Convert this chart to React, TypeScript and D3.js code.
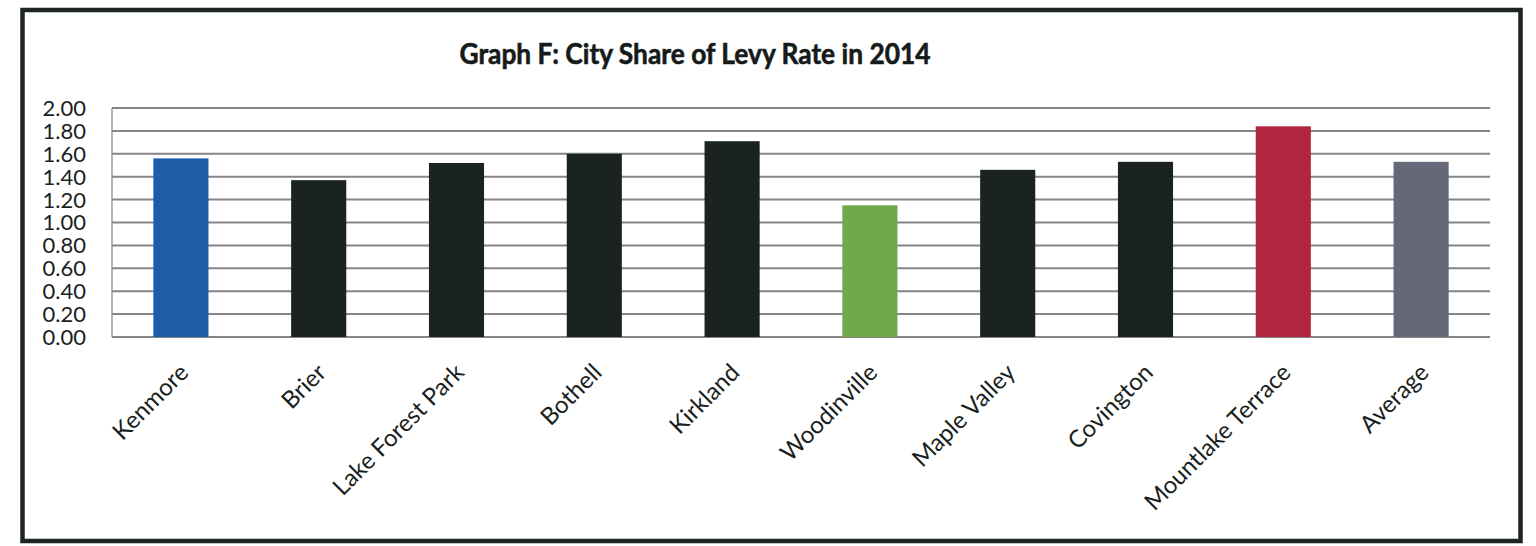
import React from "react";
import * as d3 from "d3";

const cities = [
  "Kenmore",
  "Brier",
  "Lake Forest Park",
  "Bothell",
  "Kirkland",
  "Woodinville",
  "Maple Valley",
  "Covington",
  "Mountlake Terrace",
  "Average",
];
const levyShare = [1.56, 1.37, 1.52, 1.6, 1.71, 1.15, 1.46, 1.53, 1.84, 1.53];
const barColors = [
  "#1d5ca6",
  "#1b2321",
  "#1b2321",
  "#1b2321",
  "#1b2321",
  "#71a84c",
  "#1b2321",
  "#1b2321",
  "#b2253f",
  "#646879",
];
const yTicks = [0, 0.2, 0.4, 0.6, 0.8, 1.0, 1.2, 1.4, 1.6, 1.8, 2.0];
const title = "Graph F: City Share of Levy Rate in 2014";

const width = 1536;
const height = 546;
const plotLeft = 112;
const plotRight = 1490;
const plotTop = 108;
const plotBottom = 337;
const font = "Lato, 'Open Sans', sans-serif";

export default function App() {
  const x = d3
    .scaleBand<string>()
    .domain(cities)
    .range([plotLeft, plotRight])
    .paddingInner(0.6)
    .paddingOuter(0.3);

  const y = d3.scaleLinear().domain([0, 2]).range([plotBottom, plotTop]);

  const bars = cities.map((c, i) => ({ city: c, value: levyShare[i], color: barColors[i] }));

  return (
    <svg
      width={width}
      height={height}
      viewBox={`0 0 ${width} ${height}`}
      style={{ position: "absolute", left: 0, top: 0, background: "#fff" }}
    >
      {/* frame */}
      <rect x={22.5} y={10} width={1498} height={531} fill="none" stroke="#1e2422" strokeWidth={4.5} />

      <text
        x={695}
        y={64}
        textAnchor="middle"
        fontFamily={font}
        fontWeight="bold"
        fontSize={28}
        fill="#161b1a"
        stroke="#161b1a"
        strokeWidth={0.6}
        textLength={471}
        lengthAdjust="spacingAndGlyphs"
      >
        {title}
      </text>

      {/* gridlines */}
      <g stroke="#858585" strokeWidth={2}>
        {yTicks.map((t) => (
          <line key={t} x1={plotLeft} x2={plotRight} y1={y(t)} y2={y(t)} />
        ))}
        <line x1={plotLeft} x2={plotLeft} y1={plotTop} y2={plotBottom} strokeWidth={1.2} />
      </g>

      {/* y tick labels */}
      <g fontFamily={font} fontSize={22} fill="#1a1f1e" textAnchor="end">
        {yTicks.map((t) => (
          <text key={t} x={86} y={y(t)} dy="0.36em">
            {d3.format(".2f")(t)}
          </text>
        ))}
      </g>

      {/* bars */}
      <g>
        {bars.map((d) => (
          <rect
            key={d.city}
            x={x(d.city)}
            y={y(d.value)}
            width={x.bandwidth()}
            height={y(0) - y(d.value)}
            fill={d.color}
          />
        ))}
      </g>

      {/* x labels */}
      <g fontFamily={font} fontSize={24} fill="#1a1f1e" textAnchor="end">
        {cities.map((c) => {
          const cx = (x(c) ?? 0) + x.bandwidth() / 2 + 9;
          const cy = plotBottom + 37;
          return (
            <text key={c} transform={`translate(${cx},${cy}) rotate(-45)`}>
              {c}
            </text>
          );
        })}
      </g>
    </svg>
  );
}
